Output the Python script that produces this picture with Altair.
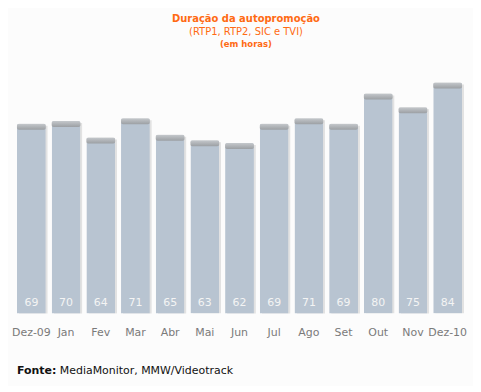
import altair as alt
import pandas as pd

months = ["Dez-09", "Jan", "Fev", "Mar", "Abr", "Mai", "Jun", "Jul", "Ago", "Set", "Out", "Nov", "Dez-10"]
hours = [69, 70, 64, 71, 65, 63, 62, 69, 71, 69, 80, 75, 84]

df = pd.DataFrame({"mes": months, "horas": hours})
one = pd.DataFrame({"k": [0]})

FONT = "DejaVu Sans"
ORANGE = "#ff6a13"

x = alt.X("mes:N", sort=months, title=None,
          scale=alt.Scale(paddingInner=0.168, paddingOuter=0.086),
          axis=alt.Axis(ticks=False, domain=False, labelAngle=0, labelPadding=13,
                        labelFont=FONT, labelFontSize=11, labelColor="#7a7a7a",
                        labelOverlap=False, labelBound=False, grid=False))
y = alt.Y("horas:Q", title=None, scale=alt.Scale(domain=[0, 84], nice=False, zero=True), axis=None)

base = alt.Chart(df).encode(x=x, y=y)

shadow = base.mark_bar(color="#e2e2e2", xOffset=2, yOffset=2, cornerRadiusTopRight=2)
bars = base.mark_bar(color="#b8c4d1", cornerRadiusTopLeft=2, cornerRadiusTopRight=2)
cap = base.mark_tick(
    thickness=6, size=29, yOffset=3, cornerRadius=2,
    color=alt.Gradient(gradient="linear", x1=0, x2=0, y1=0, y2=1,
                       stops=[alt.GradientStop(offset=0, color="#cacaca"),
                              alt.GradientStop(offset=1, color="#909090")]))
vals = alt.Chart(df).mark_text(font=FONT, fontSize=11, color="#f4f4f4", baseline="middle").encode(
    x=alt.X("mes:N", sort=months), y=alt.value(221), text="horas:Q")

def label(text, px, py, size=11, weight="normal", color=ORANGE, align="center"):
    return alt.Chart(one).mark_text(text=text, font=FONT, fontSize=size, fontWeight=weight,
                                    color=color, align=align, baseline="middle").encode(
        x=alt.value(px), y=alt.value(py))

t1 = label("Duração da autopromoção", 233, -64, 10, "bold")
t2 = label("(RTP1, RTP2, SIC e TVI)", 233, -51, 10)
t3 = label("(em horas)", 233, -39, 8.5, "bold")
f1 = label("Fonte:", 3, 290, 11, "bold", "#111111", "left")
f2 = label("MediaMonitor, MMW/Videotrack", 46, 290, 11, "normal", "#111111", "left")

chart = alt.layer(shadow, bars, cap, vals, t1, t2, t3, f1, f2).properties(
    width=453, height=232,
    autosize=alt.AutoSizeParams(type="none"),
    padding={"left": 6, "top": 74, "right": 8, "bottom": 72},
    background="#fcfcfc",
).configure_view(stroke=None)

chart.save("out.html", embed_options={"renderer": "svg", "actions": False})
